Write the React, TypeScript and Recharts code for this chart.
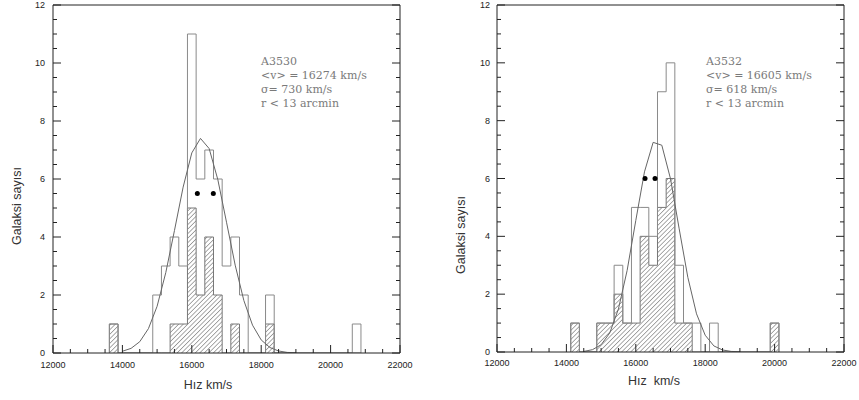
import { Area, ComposedChart, Line, Scatter, XAxis, YAxis } from 'recharts';

const binWidth = 250;

// A3530 histogram (bin centres, km/s)
const leftCenters = [13750, 15000, 15250, 15500, 15750, 16000, 16250, 16500, 16750, 17000, 17250, 17500, 18250, 20750];
const leftAll = [1, 2, 3, 4, 3, 11, 6, 7, 6, 3, 4, 2, 2, 1];
const leftHatched = [1, 0, 0, 1, 1, 5, 2, 4, 2, 0, 1, 0, 1, 0];
const leftCurveX = [14000, 14250, 14500, 14750, 15000, 15250, 15500, 15750, 16000, 16250, 16500, 16750, 17000, 17250, 17500, 17750, 18000, 18250, 18500, 18750, 19000];
const leftCurveY = [0.06, 0.16, 0.39, 0.84, 1.61, 2.77, 4.22, 5.72, 6.9, 7.4, 7.05, 5.98, 4.51, 3.03, 1.81, 0.96, 0.45, 0.19, 0.07, 0.02, 0.01];
const leftDotX = [16160, 16620];
const leftDotY = [5.5, 5.5];
const leftNotes = ['A3530', '<v> = 16274 km/s', 'σ= 730 km/s', 'r < 13 arcmin'];

// A3532 histogram
const rightCenters = [14250, 15000, 15250, 15500, 15750, 16000, 16250, 16500, 16750, 17000, 17250, 17500, 17750, 18250, 20000];
const rightAll = [1, 1, 1, 3, 1, 5, 5, 4, 9, 10, 3, 1, 1, 1, 1];
const rightHatched = [1, 1, 1, 2, 1, 1, 4, 3, 5, 6, 1, 1, 0, 0, 1];
const rightCurveX = [14500, 14750, 15000, 15250, 15500, 15750, 16000, 16250, 16500, 16750, 17000, 17250, 17500, 17750, 18000, 18250, 18500, 18750, 19000];
const rightCurveY = [0.02, 0.08, 0.25, 0.66, 1.49, 2.82, 4.55, 6.23, 7.25, 7.15, 5.99, 4.26, 2.58, 1.32, 0.58, 0.21, 0.07, 0.02, 0.01];
const rightDotX = [16266, 16554];
const rightDotY = [6, 6];
const rightNotes = ['A3532', '<v> = 16605 km/s', 'σ= 618 km/s', 'r < 13 arcmin'];

const xTicks = [12000, 12500, 13000, 13500, 14000, 14500, 15000, 15500, 16000, 16500, 17000, 17500, 18000, 18500, 19000, 19500, 20000, 20500, 21000, 21500, 22000];
const xLabels = [12000, 14000, 16000, 18000, 20000, 22000];
const yTicks = [0, 0.5, 1, 1.5, 2, 2.5, 3, 3.5, 4, 4.5, 5, 5.5, 6, 6.5, 7, 7.5, 8, 8.5, 9, 9.5, 10, 10.5, 11, 11.5, 12];
const yLabels = [0, 2, 4, 6, 8, 10, 12];

const frame = '#222';
const tickFont = { fontFamily: 'Liberation Sans, Arial, sans-serif', fontSize: 9, fill: '#222' };

// step outline points (left edge of each bin), closing to zero across gaps
function toSteps(centers: number[], counts: number[]) {
  const pts: { x: number; y: number }[] = [];
  let prevRight: number | null = null;
  centers.forEach((c, i) => {
    const l = c - binWidth / 2;
    if (prevRight !== l) {
      if (prevRight !== null) pts.push({ x: prevRight, y: 0 });
      pts.push({ x: l, y: 0 });
    }
    pts.push({ x: l, y: counts[i] });
    prevRight = l + binWidth;
  });
  pts.push({ x: prevRight as number, y: 0 });
  return pts;
}

const pairs = (xs: number[], ys: number[]) => xs.map((x, i) => ({ x, y: ys[i] }));

function Panel(props: {
  width: number;
  margin: { top: number; right: number; bottom: number; left: number };
  centers: number[];
  all: number[];
  hatched: number[];
  curveX: number[];
  curveY: number[];
  dotX: number[];
  dotY: number[];
  patternId: string;
  labelDy: number;
  labelGap: number;
}) {
  const { width, margin, patternId, labelDy, labelGap } = props;

  const BottomTick = (p: any) => {
    const v = p.payload.value;
    const major = xLabels.includes(v);
    return (
      <g>
        <line x1={p.x} x2={p.x} y1={p.y} y2={p.y - (major ? 8 : 4)} stroke={frame} />
        {major && (
          <text x={p.x} y={p.y + labelDy} textAnchor="middle" {...tickFont}>
            {v}
          </text>
        )}
      </g>
    );
  };
  const TopTick = (p: any) => {
    const major = xLabels.includes(p.payload.value);
    return <line x1={p.x} x2={p.x} y1={p.y} y2={p.y + (major ? 8 : 4)} stroke={frame} />;
  };
  const LeftTick = (p: any) => {
    const v = p.payload.value;
    const major = yLabels.includes(v);
    return (
      <g>
        <line x1={p.x} x2={p.x + (major ? 8 : 4)} y1={p.y} y2={p.y} stroke={frame} />
        {major && (
          <text x={p.x - labelGap} y={p.y + 3} textAnchor="end" {...tickFont}>
            {v}
          </text>
        )}
      </g>
    );
  };
  const RightTick = (p: any) => {
    const major = yLabels.includes(p.payload.value);
    return <line x1={p.x} x2={p.x - (major ? 8 : 4)} y1={p.y} y2={p.y} stroke={frame} />;
  };

  return (
    <ComposedChart width={width} height={400} margin={margin}>
      <defs>
        <pattern id={patternId} patternUnits="userSpaceOnUse" width={3.2} height={3.2} patternTransform="rotate(45)">
          <line x1={0} y1={0} x2={0} y2={3.2} stroke="#444" strokeWidth={0.9} />
        </pattern>
      </defs>
      <XAxis
        dataKey="x"
        type="number"
        domain={[12000, 22000]}
        ticks={xTicks}
        height={1}
        tickSize={0}
        tickMargin={0}
        tickLine={false}
        tick={<BottomTick />}
        axisLine={{ stroke: frame }}
        interval={0}
        allowDataOverflow
      />
      <XAxis
        xAxisId="top"
        orientation="top"
        type="number"
        domain={[12000, 22000]}
        ticks={xTicks}
        height={1}
        tickSize={0}
        tickMargin={0}
        tickLine={false}
        tick={<TopTick />}
        axisLine={{ stroke: frame }}
        interval={0}
        allowDataOverflow
      />
      <YAxis
        dataKey="y"
        type="number"
        domain={[0, 12]}
        ticks={yTicks}
        width={1}
        tickSize={0}
        tickMargin={0}
        tickLine={false}
        tick={<LeftTick />}
        axisLine={{ stroke: frame }}
        interval={0}
        allowDataOverflow
      />
      <YAxis
        yAxisId="right"
        orientation="right"
        type="number"
        domain={[0, 12]}
        ticks={yTicks}
        width={1}
        tickSize={0}
        tickMargin={0}
        tickLine={false}
        tick={<RightTick />}
        axisLine={{ stroke: frame }}
        interval={0}
        allowDataOverflow
      />
      <Area
        data={toSteps(props.centers, props.hatched)}
        dataKey="y"
        type="stepAfter"
        fill={`url(#${patternId})`}
        fillOpacity={1}
        stroke="#777"
        strokeWidth={1}
        isAnimationActive={false}
        dot={false}
        activeDot={false}
      />
      <Line
        data={toSteps(props.centers, props.all)}
        dataKey="y"
        type="stepAfter"
        stroke="#8a8a8a"
        strokeWidth={1}
        dot={false}
        activeDot={false}
        isAnimationActive={false}
      />
      <Line
        data={pairs(props.curveX, props.curveY)}
        dataKey="y"
        type="linear"
        stroke="#666"
        strokeWidth={1}
        dot={false}
        activeDot={false}
        isAnimationActive={false}
      />
      <Scatter
        data={pairs(props.dotX, props.dotY)}
        dataKey="y"
        isAnimationActive={false}
        shape={(p: any) => <circle cx={p.cx} cy={p.cy} r={2.5} fill="#000" />}
      />
    </ComposedChart>
  );
}

const noteStyle = { fontFamily: 'DejaVu Serif, serif', fontSize: 11, fill: '#7a7a7a' };
const titleStyle = { fontFamily: 'Liberation Sans, Arial, sans-serif', fontSize: 12.5, fill: '#333' };

export default function App() {
  return (
    <div style={{ position: 'absolute', left: 0, top: 0, width: 859, height: 400, background: '#fff', overflow: 'hidden' }}>
      <div style={{ position: 'absolute', left: 0, top: 0 }}>
        <Panel
          width={430}
          margin={{ top: 4, right: 29, bottom: 46, left: 52 }}
          centers={leftCenters}
          all={leftAll}
          hatched={leftHatched}
          curveX={leftCurveX}
          curveY={leftCurveY}
          dotX={leftDotX}
          dotY={leftDotY}
          patternId="hatchLeft"
          labelDy={15}
          labelGap={8}
        />
      </div>
      <div style={{ position: 'absolute', left: 430, top: 0 }}>
        <Panel
          width={429}
          margin={{ top: 4, right: 14, bottom: 47, left: 66 }}
          centers={rightCenters}
          all={rightAll}
          hatched={rightHatched}
          curveX={rightCurveX}
          curveY={rightCurveY}
          dotX={rightDotX}
          dotY={rightDotY}
          patternId="hatchRight"
          labelDy={14}
          labelGap={7}
        />
      </div>
      <svg width={859} height={400} style={{ position: 'absolute', left: 0, top: 0, pointerEvents: 'none' }}>
        <text transform="translate(21,206) rotate(-90)" textAnchor="middle" {...titleStyle}>
          Galaksi sayısı
        </text>
        <text transform="translate(465,235) rotate(-90)" textAnchor="middle" {...titleStyle}>
          Galaksi sayısı
        </text>
        <text x={208} y={389} textAnchor="middle" {...titleStyle}>
          Hız km/s
        </text>
        <text x={654} y={385} textAnchor="middle" style={{ whiteSpace: 'pre' }} {...titleStyle}>
          {'Hız  km/s'}
        </text>
        {leftNotes.map((t, i) => (
          <text key={'l' + i} x={261} y={65 + i * 14} style={{ whiteSpace: 'pre' }} {...noteStyle}>
            {t}
          </text>
        ))}
        {rightNotes.map((t, i) => (
          <text key={'r' + i} x={706} y={65 + i * 14} style={{ whiteSpace: 'pre' }} {...noteStyle}>
            {t}
          </text>
        ))}
      </svg>
    </div>
  );
}
